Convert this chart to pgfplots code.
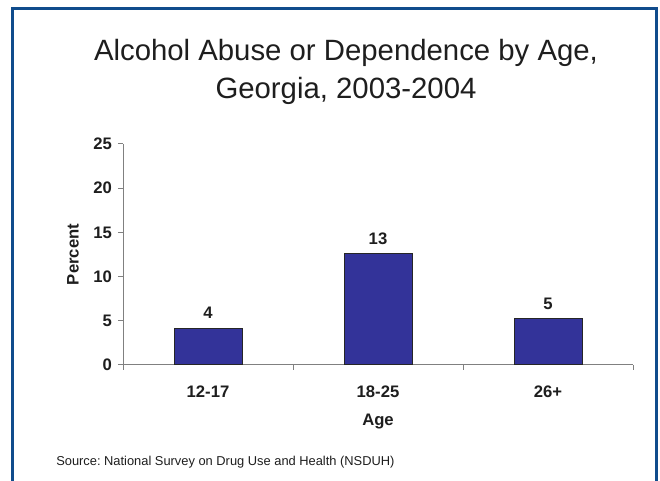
\documentclass[border=0pt]{standalone}
\usepackage{pgfplots}
\pgfplotsset{compat=1.18}
\usepackage{fontspec}
\setmainfont{Liberation Sans}
\frenchspacing
\definecolor{framecol}{RGB}{16,76,140}
\definecolor{barcol}{RGB}{51,51,153}
\definecolor{axiscol}{RGB}{128,128,128}
\definecolor{txtcol}{RGB}{30,30,30}
\begin{document}
\begin{tikzpicture}
\path[use as bounding box] (0,0) rectangle (495pt,360.75pt);
\fill[white] (0,0) rectangle (495pt,360.75pt);
\draw[framecol, line width=2.25pt] (9.4pt,0) -- (9.4pt,354.4pt) -- (492.4pt,354.4pt) -- (492.4pt,0);
\node[font=\fontsize{22}{26}\selectfont, anchor=base, text=txtcol, inner sep=0pt] at (259.5pt,315.5pt) {Alcohol Abuse or Dependence by Age,};
\node[font=\fontsize{22}{26}\selectfont, anchor=base, text=txtcol, inner sep=0pt] at (259.5pt,287pt) {Georgia, 2003-2004};
\node[font=\fontsize{9.65}{11}\selectfont, anchor=base west, text=txtcol, inner sep=0pt] at (42pt,11.25pt) {Source: National Survey on Drug Use and Health (NSDUH)};
\begin{axis}[
  at={(92.25pt,87pt)}, anchor=south west,
  scale only axis, width=382.5pt, height=165.75pt,
  xmin=-0.5, xmax=2.5, ymin=0, ymax=25,
  axis lines*=left,
  axis line style={axiscol, line width=0.75pt},
  ytick={0,5,...,25},
  xtick={0,1,2}, xticklabels={12-17,18-25,26+},
  minor xtick={-0.5,0.5,1.5,2.5},
  major x tick style={draw=none},
  tick style={axiscol, line width=0.75pt},
  tick align=outside,
  major tick length=3.75pt, minor tick length=3.75pt,
  ticklabel style={font=\bfseries\fontsize{12.5}{14}\selectfont, text=txtcol},
  /pgf/number format/assume math mode=true,
  xticklabel style={yshift=-8pt},
  yticklabel style={xshift=-1pt},
  ylabel={Percent}, xlabel={Age},
  every axis y label/.style={at={(axis description cs:-0.098,0.5)}, rotate=90, anchor=center, font=\bfseries\fontsize{12.5}{14}\selectfont, text=txtcol},
  every axis x label/.style={at={(axis description cs:0.5,-0.255)}, anchor=center, font=\bfseries\fontsize{12.5}{14}\selectfont, text=txtcol},
  ybar, bar width=51pt,
  nodes near coords, point meta=explicit symbolic,
  every node near coord/.append style={font=\bfseries\fontsize{12.5}{14}\selectfont, text=txtcol, anchor=base, yshift=7pt},
]
\addplot[fill=barcol, draw=black!85, line width=0.75pt] table[x=x, y=y, meta=label] {
x y label
0 4.15 4
1 12.6 13
2 5.24 5
};
\end{axis}
\end{tikzpicture}
\end{document}
